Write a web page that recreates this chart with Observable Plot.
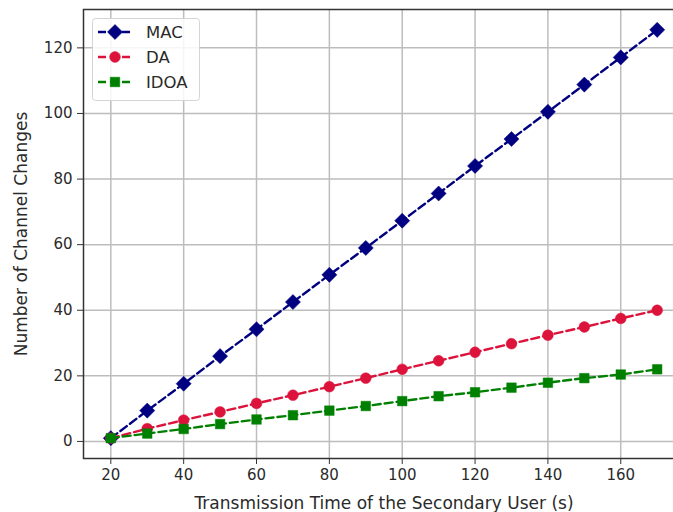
<!DOCTYPE html>
<html>
<head>
<meta charset="utf-8">
<script src="https://cdn.jsdelivr.net/npm/d3@7"></script>
<script src="https://cdn.jsdelivr.net/npm/@observablehq/plot@0.6"></script>
<style>
  html, body { margin: 0; padding: 0; background: #fff; overflow: hidden; }
  #wrap { position: relative; width: 673px; height: 512px; overflow: hidden; }
  #wrap svg.plot-root { overflow: hidden; }
  #legend { position: absolute; left: 92px; top: 18px; }
</style>
</head>
<body>
<div id="wrap"></div>
<script>
const times = [20, 30, 40, 50, 60, 70, 80, 90, 100, 110, 120, 130, 140, 150, 160, 170];
const mac  = [1.0, 9.4, 17.6, 26.0, 34.2, 42.5, 50.8, 59.0, 67.3, 75.6, 84.0, 92.2, 100.5, 108.8, 117.1, 125.5];
const da   = [1.0, 3.9, 6.5, 9.0, 11.6, 14.1, 16.7, 19.3, 22.0, 24.6, 27.2, 29.8, 32.4, 34.9, 37.5, 40.0];
const idoa = [1.0, 2.4, 3.8, 5.3, 6.7, 8.0, 9.4, 10.8, 12.3, 13.8, 15.0, 16.4, 17.9, 19.3, 20.4, 22.0];
const seriesNames = ["MAC", "DA", "IDOA"];
const seriesColors = ["#000080", "#dc143c", "#008000"];
const seriesSymbols = ["diamond2", "circle", "square"];
const seriesRadius = [6.8, 5.4, 5.4];
const xTicks = [20, 40, 60, 80, 100, 120, 140, 160];
const yTicks = [0, 20, 40, 60, 80, 100, 120];
const xLabel = "Transmission Time of the Secondary User (s)";
const yLabel = "Number of Channel Changes";

const allValues = [mac, da, idoa];
const rows = [];
allValues.forEach((vals, si) => {
  vals.forEach((v, i) => rows.push({series: seriesNames[si], t: times[i], v}));
});

const font = "DejaVu Sans, sans-serif";
const marks = [
  Plot.gridX(xTicks, {stroke: "#bdbdbd", strokeOpacity: 1, strokeWidth: 1.5}),
  Plot.gridY(yTicks, {stroke: "#bdbdbd", strokeOpacity: 1, strokeWidth: 1.5}),
];
seriesNames.forEach((name, si) => {
  const d = rows.filter(r => r.series === name);
  marks.push(Plot.line(d, {x: "t", y: "v", stroke: seriesColors[si], strokeWidth: 2.4, strokeDasharray: "8,4"}));
  marks.push(Plot.dot(d, {x: "t", y: "v", fill: seriesColors[si], stroke: seriesColors[si], strokeWidth: 0.5, symbol: seriesSymbols[si], r: seriesRadius[si]}));
});
marks.push(
  Plot.frame({stroke: "#333", strokeWidth: 1.5}),
  Plot.axisX({ticks: xTicks, tickSize: 6, tickPadding: 5, fontSize: 15, stroke: "#333", label: null}),
  Plot.axisX({ticks: [], tickSize: 0, label: xLabel, labelAnchor: "center", labelArrow: "none", labelOffset: 50, fontSize: 17}),
  Plot.axisY({ticks: yTicks, tickSize: 6, tickPadding: 5, fontSize: 15, stroke: "#333", label: null}),
  Plot.axisY({ticks: [], tickSize: 0, label: yLabel, labelAnchor: "center", labelArrow: "none", labelOffset: 69, fontSize: 17})
);

const chart = Plot.plot({
  width: 673,
  height: 512,
  marginLeft: 83,
  marginRight: -11,
  marginTop: 9,
  marginBottom: 54,
  style: {fontFamily: font, fontSize: "15px", color: "#2a2a2a", background: "#fff", overflow: "hidden"},
  x: {domain: [12.5, 177.5]},
  y: {domain: [-5.2, 131.7]},
  marks
});
chart.classList.add("plot-root");
document.getElementById("wrap").appendChild(chart);

// Legend (matplotlib-style box)
const lg = d3.select("#wrap").append("svg")
  .attr("id", "legend").attr("width", 110).attr("height", 86);
lg.append("rect").attr("x", 0.5).attr("y", 0.5).attr("width", 107).attr("height", 82)
  .attr("rx", 3).attr("fill", "rgba(255,255,255,0.85)").attr("stroke", "#d4d4d4");
seriesNames.forEach((name, si) => {
  const cy = 14 + si * 25;
  const g = lg.append("g").attr("transform", `translate(0,${cy})`);
  g.append("line").attr("x1", 6).attr("x2", 40).attr("y1", 0).attr("y2", 0)
    .attr("stroke", seriesColors[si]).attr("stroke-width", 2.4).attr("stroke-dasharray", "8,4");
  const area = Math.PI * seriesRadius[si] * seriesRadius[si];
  const sym = {diamond2: d3.symbolDiamond2, circle: d3.symbolCircle, square: d3.symbolSquare}[seriesSymbols[si]];
  g.append("path").attr("transform", "translate(23,0)").attr("d", d3.symbol(sym, area)())
    .attr("fill", seriesColors[si]).attr("stroke", seriesColors[si]).attr("stroke-width", 0.5);
  g.append("text").attr("x", 54).attr("y", 0).attr("dy", "0.35em")
    .attr("font-family", font).attr("font-size", 16.5).attr("fill", "#2a2a2a").text(name);
});
</script>
</body>
</html>
